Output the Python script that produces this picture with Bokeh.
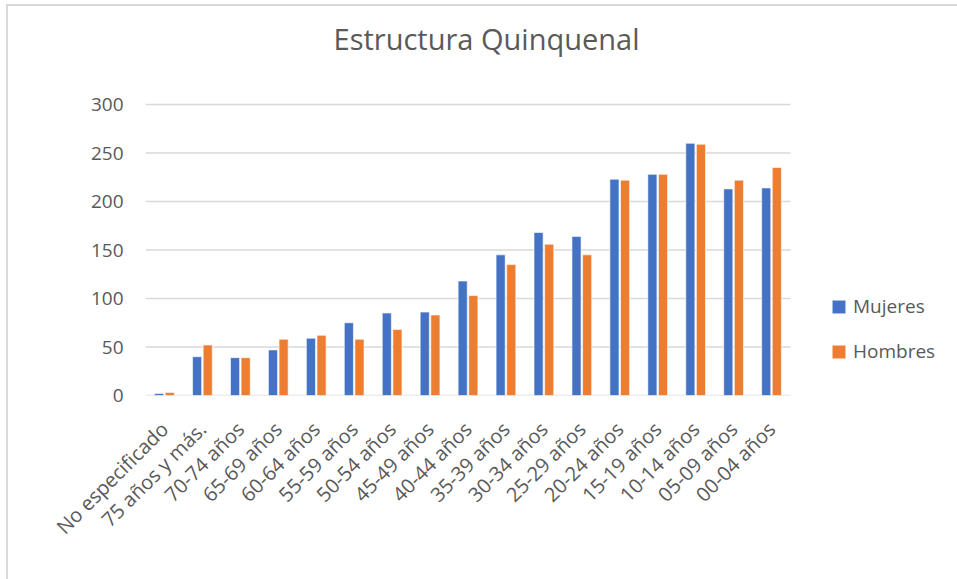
import math
from bokeh.plotting import figure
from bokeh.models import ColumnDataSource, Range1d, Legend, LegendItem, Label, FixedTicker
from bokeh.transform import dodge
from bokeh.embed import file_html
from bokeh.resources import INLINE

categories = ["No especificado", "75 años y más.", "70-74 años", "65-69 años", "60-64 años",
              "55-59 años", "50-54 años", "45-49 años", "40-44 años", "35-39 años",
              "30-34 años", "25-29 años", "20-24 años", "15-19 años", "10-14 años",
              "05-09 años", "00-04 años"]
mujeres = [2, 40, 39, 47, 59, 75, 85, 86, 118, 145, 168, 164, 223, 228, 260, 213, 214]
hombres = [3, 52, 39, 58, 62, 58, 68, 83, 103, 135, 156, 145, 222, 228, 259, 222, 235]
y_ticks = [0, 50, 100, 150, 200, 250, 300]
series_names = ["Mujeres", "Hombres"]
colors = ["#4472C4", "#ED7D31"]
title_text = "Estructura Quinquenal"

FONT = "Open Sans"
TXT = "#595959"

W, H = 957, 579
LEFT, PLOT_RIGHT, TOP, BOTTOM = 145, 790, 104, 395
n = len(categories)
idx = list(range(n))
y_max = max(y_ticks)
# the frame spans the whole canvas to the right and top so the legend and the
# title can sit inside it; the bars keep the reference's scale
x_end = -0.5 + n * (W - LEFT) / (PLOT_RIGHT - LEFT)
y_end = y_max * BOTTOM / (BOTTOM - TOP)

source = ColumnDataSource(dict(idx=idx, cat=categories, m=mujeres, h=hombres))
grid = ColumnDataSource(dict(y=y_ticks, x0=[-0.5] * len(y_ticks), x1=[n - 0.5] * len(y_ticks)))

p = figure(width=W, height=H, x_range=Range1d(-0.5, x_end),
           y_range=Range1d(0, y_end), output_backend="svg", toolbar_location=None,
           min_border_left=LEFT, min_border_right=0, min_border_top=0,
           min_border_bottom=H - BOTTOM)
p.border_fill_color = None
p.background_fill_color = None
p.stylesheets = [":host { background: "
                 "linear-gradient(#d9d9d9,#d9d9d9) 6px 4px / 100% 2px no-repeat, "
                 "linear-gradient(#d9d9d9,#d9d9d9) 6px 4px / 2px 100% no-repeat, white; }"]

p.add_layout(Label(x=486 - LEFT, y=BOTTOM - 38, x_units="screen", y_units="screen",
                   text=title_text, text_align="center", text_baseline="alphabetic",
                   text_font=FONT, text_font_size="29px", text_color=TXT))

p.segment(x0="x0", x1="x1", y0="y", y1="y", source=grid, line_color="#d9d9d9", line_width=1.3)

rm = p.vbar(x=dodge("idx", -0.14), top="m", width=0.24, source=source,
            fill_color=colors[0], line_color="white", line_width=0.6)
rh = p.vbar(x=dodge("idx", 0.14), top="h", width=0.24, source=source,
            fill_color=colors[1], line_color="white", line_width=0.6)

p.outline_line_color = None
p.xgrid.grid_line_color = None
p.ygrid.grid_line_color = None
p.yaxis.ticker = FixedTicker(ticks=y_ticks)
p.yaxis.axis_line_color = None
p.yaxis.major_tick_line_color = None
p.yaxis.minor_tick_line_color = None
p.yaxis.major_tick_out = 0
p.yaxis.major_label_standoff = 22
p.xaxis.ticker = FixedTicker(ticks=idx)
p.xaxis.major_label_overrides = {i: c for i, c in zip(idx, categories)}
p.xaxis.axis_line_color = None
p.xaxis.major_tick_line_color = None
p.xaxis.minor_tick_line_color = None
p.xaxis.major_tick_out = 0
p.xaxis.major_label_orientation = math.pi / 4
p.xaxis.major_label_standoff = 30
p.yaxis.major_label_text_font_size = "19px"
p.xaxis.major_label_text_font_size = "20px"
for ax in (p.xaxis, p.yaxis):
    ax.major_label_text_font = FONT
    ax.major_label_text_color = TXT

legend = Legend(items=[LegendItem(label=series_names[0], renderers=[rm]),
                       LegendItem(label=series_names[1], renderers=[rh])],
                location=(685, 31), padding=0, margin=0, border_line_alpha=0,
                background_fill_alpha=0, glyph_width=17, glyph_height=17,
                label_height=20, spacing=19, label_standoff=6,
                label_text_font=FONT, label_text_font_size="19px", label_text_color=TXT)
p.add_layout(legend, "center")

open("out.html", "w").write(file_html(p, INLINE))
